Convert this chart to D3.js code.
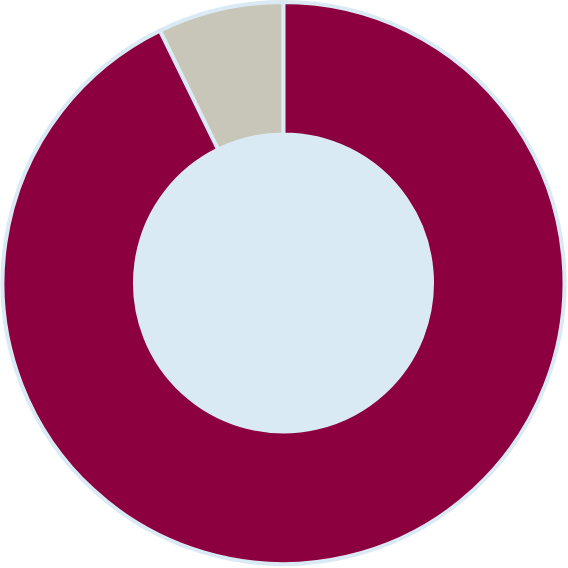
<!DOCTYPE html>
<html><head><meta charset="utf-8">
<script src="https://cdn.jsdelivr.net/npm/d3@7"></script>
<style>html,body{margin:0;padding:0;background:#fff;}svg{display:block;}</style>
</head><body>
<svg id="chart" width="568" height="568"></svg>
<script>
const categories = ["A", "B"];
const values = [7.25, 92.75];
const colors = ["#c8c6b9", "#8c003f"];

const W = 568, H = 568;
const cx = 283.5, cy = 283, rOuter = 281, rInner = 148.5;
const svg = d3.select("#chart");
const g = svg.append("g").attr("transform", `translate(${cx},${cy})`);

g.append("circle").attr("r", rInner).attr("fill", "#daeaf4");

const total = d3.sum(values);
const a0 = -2 * Math.PI * values[0] / total;
const pie = d3.pie().sort(null).value(d => d.v)
  .startAngle(a0).endAngle(a0 + 2 * Math.PI);
const arc = d3.arc().innerRadius(rInner).outerRadius(rOuter);
const data = categories.map((c, i) => ({c, v: values[i], color: colors[i]}));

g.selectAll("path").data(pie(data)).join("path")
  .attr("d", arc)
  .attr("fill", d => d.data.color)
  .attr("stroke", "#daeaf4")
  .attr("stroke-width", 4)
  .attr("stroke-linejoin", "round");
</script>
</body></html>
